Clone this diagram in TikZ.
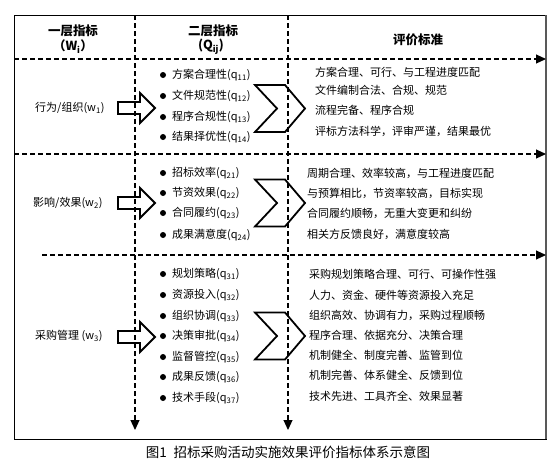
\documentclass[tikz,border=0pt]{standalone}
\usepackage{fontspec}
\setmainfont{Noto Sans CJK SC}
\usetikzlibrary{arrows.meta}
\newcommand\chevshape[1]{%
  \draw[outl] (255,#1-23.5) -- (285,#1-23.5) -- (305,#1) -- (285,#1+23.5) -- (255,#1+23.5) -- (277,#1) -- cycle;}
\newcommand\blockarr[1]{%
  \draw[outl] (118,#1-6) -- (140,#1-6) -- (140,#1-15) -- (155,#1) -- (140,#1+15) -- (140,#1+6) -- (118,#1+6) -- cycle;}
\begin{document}
\begin{tikzpicture}[x=1pt,y=-1pt,
  frame/.style={draw=black,line width=0.8pt},
  dashline/.style={dash pattern=on 5pt off 3pt, line width=1.1pt, -{Triangle[length=10pt,width=9pt]}},
  hdr/.style={font=\fontsize{12.5}{14}\selectfont\bfseries, inner sep=0pt},
  body/.style={font=\fontsize{11}{13}\selectfont, inner sep=0pt, anchor=west},
  bulletdot/.style={circle, fill=black, inner sep=0pt, minimum size=6pt},
  outl/.style={draw=black, line width=1.8pt, line join=miter}
]
\useasboundingbox (0,0) rectangle (560,469);
% frame
\draw[frame] (14,15) rectangle (546,439);
\draw[black!65, line width=1.8pt] (546,15) -- (546,439);
% dashed guide lines
\coordinate (h1s) at (14,59);  \coordinate (h1e) at (546,59);
\coordinate (h2s) at (14,154); \coordinate (h2e) at (546,154);
\coordinate (h3s) at (42,255); \coordinate (h3e) at (546,255);
\coordinate (v1s) at (135,15); \coordinate (v1e) at (135,430);
\coordinate (v2s) at (288,15); \coordinate (v2e) at (288,430);
\draw[dashline] (h1s) -- (h1e);
\draw[dashline] (h2s) -- (h2e);
\draw[dashline] (h3s) -- (h3e);
\draw[dashline] (v1s) -- (v1e);
\draw[dashline] (v2s) -- (v2e);
% headers
\node[hdr] (hA1) at (73,31) {一层指标};
\node[hdr] (hA2) at (73,47) {（W\textsubscript{i}）};
\node[hdr] (hB1) at (213,31) {二层指标};
\node[hdr] (hB2) at (211,47) {(Q\textsubscript{ij})};
\node[hdr] (hC1) at (418,40) {评价标准};
% left labels
\node[body] (L1) at (35,108) {行为/组织(w\textsubscript{1})};
\node[body] (L2) at (33,203) {影响/效果(w\textsubscript{2})};
\node[body] (L3) at (35,336) {采购管理 (w\textsubscript{3})};
% block arrows and chevrons
\blockarr{108}
\blockarr{203}
\blockarr{337}
\chevshape{108.5}
\chevshape{203}
\chevshape{336}
% row 1
\foreach \t/\y [count=\i] in {方案合理性/75,文件规范性/96,程序合规性/117,结果择优性/137}{
  \node[bulletdot] (d1\i) at (163,\y) {};
  \node[body] (b1\i) at (172,\y) {\t(q\textsubscript{1\i})};
}
\foreach \t/\y [count=\i] in {方案合理、可行、与工程进度匹配/72,文件编制合法、合规、规范/90,流程完备、程序合规/110,评标方法科学，评审严谨，结果最优/131}{
  \node[body] (r1\i) at (315,\y) {\t};
}
% row 2
\foreach \t/\y [count=\i] in {招标效率/173,节资效果/193,合同履约/213,成果满意度/235}{
  \node[bulletdot] (d2\i) at (163,\y) {};
  \node[body] (b2\i) at (172,\y) {\t(q\textsubscript{2\i})};
}
\foreach \t/\y [count=\i] in {周期合理、效率较高，与工程进度匹配/173,与预算相比，节资率较高，目标实现/193,合同履约顺畅，无重大变更和纠纷/213,相关方反馈良好，满意度较高/234}{
  \node[body] (r2\i) at (307,\y) {\t};
}
% row 3
\foreach \t/\y [count=\i] in {规划策略/274,资源投入/295,组织协调/316,决策审批/336,监督管控/357,成果反馈/377,技术手段/398}{
  \node[bulletdot] (d3\i) at (163,\y) {};
  \node[body] (b3\i) at (172,\y) {\t(q\textsubscript{3\i})};
}
\foreach \t/\y [count=\i] in {采购规划策略合理、可行、可操作性强/274,人力、资金、硬件等资源投入充足/295,组织高效、协调有力，采购过程顺畅/315,程序合理、依据充分、决策合理/335,机制健全、制度完善、监管到位/355,机制完善、体系健全、反馈到位/375,技术先进、工具齐全、效果显著/396}{
  \node[body] (r3\i) at (309,\y) {\t};
}
% caption
\node[font=\fontsize{13.5}{15}\selectfont, inner sep=0pt] (cap) at (288,452) {图1\hspace{7pt}招标采购活动实施效果评价指标体系示意图};
\end{tikzpicture}
\end{document}
